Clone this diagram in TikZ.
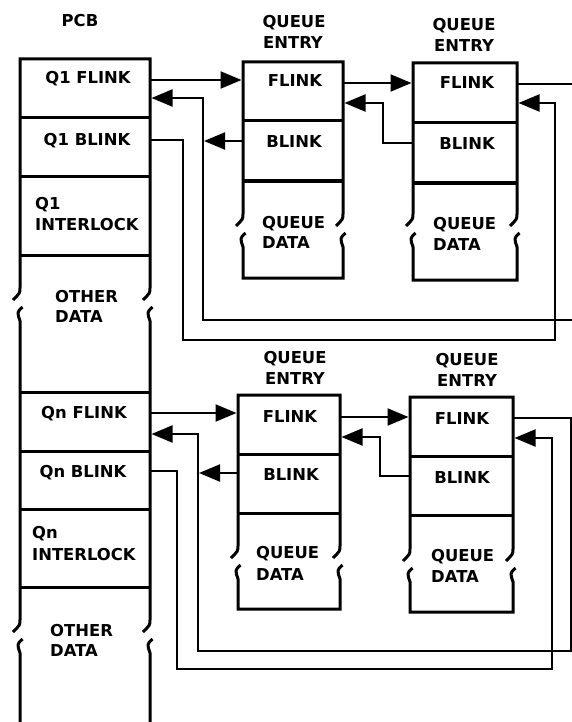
\documentclass[tikz,border=0pt]{standalone}
\usepackage{fontspec}
\setmainfont{DejaVu Sans}
\usetikzlibrary{arrows.meta}
\newcommand\drawqentry[7]{%
 \draw[boxline] ({#1-7},{#6+12}) .. controls (#1,{#6+5}) .. (#1,#6) -- (#1,#3) -- (#2,#3) -- (#2,#6) .. controls (#2,{#6+5}) .. ({#2-7},{#6+12});
 \draw[boxline] ({#1+2.5},{#6+19}) .. controls ({#1-3},{#6+24}) .. (#1,{#6+33}) -- (#1,#7) -- (#2,#7) -- (#2,{#6+33}) .. controls ({#2-3},{#6+24}) .. ({#2+2.5},{#6+19});
 \draw[boxline] (#1,#4) -- (#2,#4) (#1,#5) -- (#2,#5);}
\begin{document}
\begin{tikzpicture}[x=1pt,y=-1pt,
  boxline/.style={line width=3pt,line join=miter},
  conn/.style={line width=2.1pt,line join=miter},
  arr/.style={conn,-{Triangle[length=21pt,width=17pt]}},
  lbl/.style={font=\bfseries\fontsize{16.4}{18}\selectfont,inner sep=0pt,anchor=base},
  lbll/.style={lbl,anchor=base west}]
\useasboundingbox (0,0) rectangle (572,722);
% ---------- PCB ----------
\draw[boxline] (13,300) .. controls (20,293) .. (20,288) -- (20,59) -- (150,59) -- (150,288) .. controls (150,293) .. (143,300);
\draw[boxline] (22.5,307) .. controls (17,312) .. (20,321) -- (20,620) .. controls (20,625) .. (13,632);
\draw[boxline] (152.5,307) .. controls (147,312) .. (150,321) -- (150,620) .. controls (150,625) .. (143,632);
\draw[boxline] (22.5,639) .. controls (17,644) .. (20,653) -- (20,724);
\draw[boxline] (152.5,639) .. controls (147,644) .. (150,653) -- (150,724);
\foreach \yy in {118,177,255,392,451,509,587} \draw[boxline] (20,\yy) -- (150,\yy);
% ---------- queue entries ----------
\drawqentry{243}{343}{62}{121}{181}{214}{278}
\drawqentry{413}{517}{63}{123}{183}{214}{280}
\drawqentry{238}{340}{395}{454}{513}{546}{609}
\drawqentry{410}{513}{397}{456}{515}{549}{612}
% ---------- labels ----------
\node[lbl] (pcb) at (80,27) {PCB};
\node[lbl] (q1fl) at (88,84) {Q1 FLINK};
\node[lbl] (q1bl) at (87,146) {Q1 BLINK};
\node[lbll] (q1ia) at (35,209) {Q1};
\node[lbll] (q1ib) at (35,230) {INTERLOCK};
\node[lbll] (od1a) at (55,302) {OTHER};
\node[lbll] (od1b) at (55,322) {DATA};
\node[lbl] (qnfl) at (84,418) {Qn FLINK};
\node[lbl] (qnbl) at (83,477) {Qn BLINK};
\node[lbll] (qnia) at (32,538) {Qn};
\node[lbll] (qnib) at (32,560) {INTERLOCK};
\node[lbll] (od2a) at (50,636) {OTHER};
\node[lbll] (od2b) at (50,656) {DATA};
% entry 1
\node[lbl] (h1a) at (294,28) {QUEUE};
\node[lbl] (h1b) at (293,49) {ENTRY};
\node[lbl] (e1flt) at (295,87) {FLINK};
\node[lbl] (e1blt) at (294,148) {BLINK};
\node[lbll] (e1qa) at (262,228) {QUEUE};
\node[lbll] (e1qb) at (262,248) {DATA};
% entry 2
\node[lbl] (h2a) at (464,31) {QUEUE};
\node[lbl] (h2b) at (464,52) {ENTRY};
\node[lbl] (e2flt) at (467,89) {FLINK};
\node[lbl] (e2blt) at (467,150) {BLINK};
\node[lbll] (e2qa) at (433,229) {QUEUE};
\node[lbll] (e2qb) at (433,250) {DATA};
% entry 3
\node[lbl] (h3a) at (295,363) {QUEUE};
\node[lbl] (h3b) at (295,384) {ENTRY};
\node[lbl] (e3flt) at (290,422) {FLINK};
\node[lbl] (e3blt) at (291,480) {BLINK};
\node[lbll] (e3qa) at (256,558) {QUEUE};
\node[lbll] (e3qb) at (256,580) {DATA};
% entry 4
\node[lbl] (h4a) at (467,365) {QUEUE};
\node[lbl] (h4b) at (467,386) {ENTRY};
\node[lbl] (e4flt) at (462,424) {FLINK};
\node[lbl] (e4blt) at (462,483) {BLINK};
\node[lbll] (e4qa) at (431,561) {QUEUE};
\node[lbll] (e4qb) at (431,582) {DATA};
% ---------- connection points ----------
\coordinate (q1f) at (151,80);   \coordinate (e1fL) at (241.5,80);
\coordinate (e1fR) at (344,83);  \coordinate (e2fL) at (411.5,83);
\coordinate (e2fR) at (518,84);  \coordinate (off1) at (574,84);
\coordinate (ret1) at (574,320); \coordinate (q1fin) at (151.5,98);
\coordinate (e1b) at (242,141);  \coordinate (e1bout) at (204,141);
\coordinate (q1b) at (151,140);  \coordinate (e2fin) at (518.5,103);
\coordinate (e2b) at (412,143);  \coordinate (e1fin) at (344.5,103);
\coordinate (qnf) at (151,413);  \coordinate (e3fL) at (236.5,413);
\coordinate (e3fR) at (341,417); \coordinate (e4fL) at (408.5,417);
\coordinate (e4fR) at (514,418); \coordinate (qnfin) at (151.5,434);
\coordinate (e3b) at (237,473);  \coordinate (e3bout) at (199,473);
\coordinate (qnb) at (151,471);  \coordinate (e4fin) at (514.5,438);
\coordinate (e4b) at (409,476);  \coordinate (e3fin) at (341.5,437);
% ---------- top row connectors ----------
\draw[arr] (q1f) -- (e1fL);
\draw[arr] (e1fR) -- (e2fL);
\draw[conn] (e2fR) -- (off1);
\draw[arr] (ret1) -- (203,320) -- (203,98) -- (q1fin);
\draw[arr] (e1b) -- (e1bout);
\draw[arr] (q1b) -- (183,140) -- (183,340) -- (555,340) -- (555,103) -- (e2fin);
\draw[arr] (e2b) -- (383,143) -- (383,103) -- (e1fin);
% ---------- bottom row connectors ----------
\draw[arr] (qnf) -- (e3fL);
\draw[arr] (e3fR) -- (e4fL);
\draw[arr] (e4fR) -- (571,418) -- (571,651) -- (198,651) -- (198,434) -- (qnfin);
\draw[arr] (e3b) -- (e3bout);
\draw[arr] (qnb) -- (177,471) -- (177,669) -- (552,669) -- (552,438) -- (e4fin);
\draw[arr] (e4b) -- (380,476) -- (380,437) -- (e3fin);
\end{tikzpicture}
\end{document}
